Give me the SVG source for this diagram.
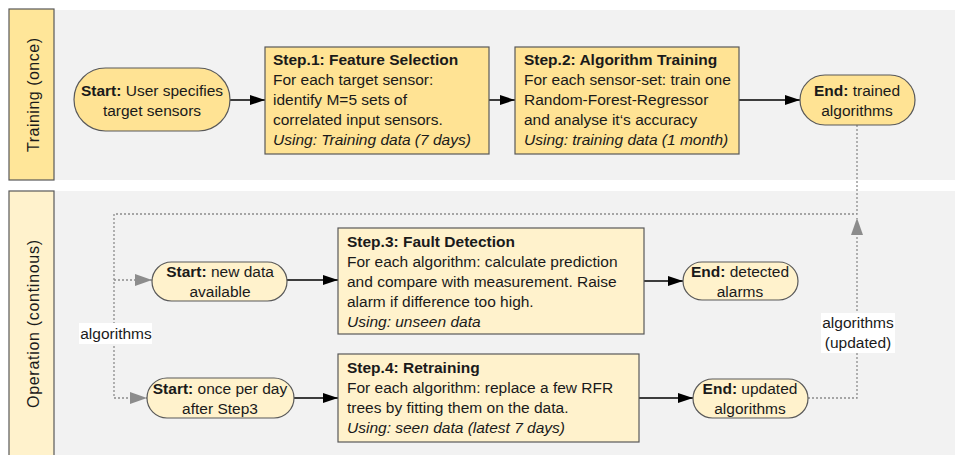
<svg xmlns="http://www.w3.org/2000/svg" width="955" height="455" viewBox="0 0 955 455">
<defs>
<style>
text{font-family:"Liberation Sans",Arial,sans-serif;font-size:15.5px;fill:#1a1a1a}
.b{font-weight:bold}
.i{font-style:italic}
.c{text-anchor:middle}
.lane{fill:#f2f2f2}
.lab1{fill:#ffe699;stroke:#595959;stroke-width:1.2}
.lab2{fill:#fff2cc;stroke:#595959;stroke-width:1.2}
.n1{fill:#ffe394;stroke:#595959;stroke-width:1.2}
.n2{fill:#fff2cc;stroke:#595959;stroke-width:1.2}
.ln{fill:none;stroke:#000;stroke-width:1.5}
.dot{fill:none;stroke:#8c8c8c;stroke-width:1.3;stroke-dasharray:2 2}
.lt{font-size:16px}
</style>
<marker id="ab" markerUnits="userSpaceOnUse" markerWidth="16" markerHeight="11" refX="15" refY="5" orient="auto">
<path d="M0,0 L15,5 L0,10 z" fill="#000"/>
</marker>
<marker id="ag" markerUnits="userSpaceOnUse" markerWidth="18" markerHeight="13" refX="17" refY="6" orient="auto">
<path d="M0,0 L17,6 L0,12 z" fill="#8c8c8c"/>
</marker>
</defs>
<rect width="955" height="455" fill="#fff"/>
<g id="lane-training">
<rect class="lane" x="54" y="10" width="901" height="170"/>
<rect class="lab1" x="9" y="9" width="45" height="171"/>
<text class="lt c" transform="translate(39,95) rotate(-90)" textLength="114" lengthAdjust="spacing">Training (once)</text>
</g>
<g id="lane-operation">
<rect class="lane" x="54" y="191" width="901" height="264"/>
<rect class="lab2" x="9" y="191" width="45" height="270"/>
<text class="lt c" transform="translate(39,324) rotate(-90)" textLength="168" lengthAdjust="spacing">Operation (continous)</text>
</g>
<g id="connectors">
<line class="ln" x1="230" y1="100" x2="265" y2="100" marker-end="url(#ab)"/>
<line class="ln" x1="489" y1="100" x2="515" y2="100" marker-end="url(#ab)"/>
<line class="ln" x1="739" y1="100" x2="800" y2="100" marker-end="url(#ab)"/>
<line class="ln" x1="287" y1="280" x2="338" y2="280" marker-end="url(#ab)"/>
<line class="ln" x1="644" y1="281" x2="683" y2="281" marker-end="url(#ab)"/>
<line class="ln" x1="294" y1="398" x2="338" y2="398" marker-end="url(#ab)"/>
<line class="ln" x1="639" y1="398" x2="693" y2="398" marker-end="url(#ab)"/>
<polyline class="dot" points="857,125 857,214 114,214 114,398 147,398" marker-end="url(#ag)"/>
<polyline class="dot" points="114,280 152,280" marker-end="url(#ag)"/>
<polyline class="dot" points="808,398 857,398 857,218" marker-end="url(#ag)"/>
<rect x="79" y="323" width="73" height="21" fill="#fff"/>
<text class="c" x="116" y="339">algorithms</text>
<rect x="821" y="313" width="74" height="40" fill="#fff"/>
<text class="c" x="858" y="328">algorithms</text>
<text class="c" x="858" y="348">(updated)</text>
</g>
<g id="start-training">
<rect class="n1" x="74" y="68" width="156" height="63" rx="31.5"/>
<text class="c" x="152" y="96"><tspan class="b">Start:</tspan> User specifies</text>
<text class="c" x="152" y="116">target sensors</text>
</g>
<g id="step1">
<rect class="n1" x="265" y="47" width="224" height="107"/>
<text x="273" y="65" class="b">Step.1: Feature Selection</text>
<text x="273" y="85">For each target sensor:</text>
<text x="273" y="105">identify M=5 sets of</text>
<text x="273" y="125">correlated input sensors.</text>
<text x="273" y="145" class="i">Using: Training data (7 days)</text>
</g>
<g id="step2">
<rect class="n1" x="515" y="47" width="224" height="107"/>
<text x="524" y="65" class="b">Step.2: Algorithm Training</text>
<text x="524" y="85">For each sensor-set: train one</text>
<text x="524" y="105">Random-Forest-Regressor</text>
<text x="524" y="125">and analyse it‘s accuracy</text>
<text x="524" y="145" class="i">Using: training data (1 month)</text>
</g>
<g id="end-training">
<rect class="n1" x="800" y="75" width="115" height="50" rx="25"/>
<text class="c" x="857" y="96"><tspan class="b">End:</tspan> trained</text>
<text class="c" x="857" y="116">algorithms</text>
</g>
<g id="start-newdata">
<rect class="n2" x="152" y="262" width="135" height="39" rx="19.5"/>
<text class="c" x="220" y="277"><tspan class="b">Start:</tspan> new data</text>
<text class="c" x="220" y="297">available</text>
</g>
<g id="step3">
<rect class="n2" x="338" y="228" width="306" height="106"/>
<text x="347" y="247" class="b">Step.3: Fault Detection</text>
<text x="347" y="267">For each algorithm: calculate prediction</text>
<text x="347" y="287">and compare with measurement. Raise</text>
<text x="347" y="307">alarm if difference too high.</text>
<text x="347" y="327" class="i">Using: unseen data</text>
</g>
<g id="end-detected">
<rect class="n2" x="683" y="262" width="115" height="38" rx="19"/>
<text class="c" x="740" y="277"><tspan class="b">End:</tspan> detected</text>
<text class="c" x="740" y="297">alarms</text>
</g>
<g id="start-daily">
<rect class="n2" x="147" y="378" width="147" height="40" rx="20"/>
<text class="c" x="220" y="394"><tspan class="b">Start:</tspan> once per day</text>
<text class="c" x="220" y="414">after Step3</text>
</g>
<g id="step4">
<rect class="n2" x="338" y="354" width="301" height="88"/>
<text x="347" y="373" class="b">Step.4: Retraining</text>
<text x="347" y="393">For each algorithm: replace a few RFR</text>
<text x="347" y="413">trees by fitting them on the data.</text>
<text x="347" y="433" class="i">Using: seen data (latest 7 days)</text>
</g>
<g id="end-updated">
<rect class="n2" x="693" y="379" width="115" height="39" rx="19.5"/>
<text class="c" x="750" y="394"><tspan class="b">End:</tspan> updated</text>
<text class="c" x="750" y="414">algorithms</text>
</g>
</svg>
